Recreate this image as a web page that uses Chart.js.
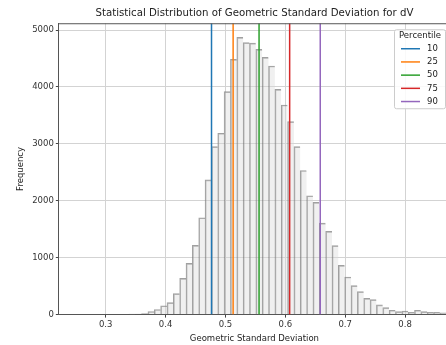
<!DOCTYPE html>
<html>
<head>
<meta charset="utf-8">
<title>GSD histogram</title>
<script src="https://cdn.jsdelivr.net/npm/chart.js@4.4.0/dist/chart.umd.min.js"></script>
<style>
  html, body { margin: 0; padding: 0; overflow: hidden; background: #fff; }
  #wrap { width: 452px; height: 345px; position: relative; }
</style>
</head>
<body>
<div id="wrap"><canvas id="chart"></canvas></div>
<script>
// histogram: bin centres and counts
var binCenters = [0.3440, 0.3546, 0.3652, 0.3758, 0.3864, 0.3970, 0.4076, 0.4182, 0.4288, 0.4394,
                  0.4500, 0.4606, 0.4712, 0.4818, 0.4924, 0.5030, 0.5136, 0.5242, 0.5348, 0.5454,
                  0.5560, 0.5666, 0.5772, 0.5878, 0.5984, 0.6090, 0.6196, 0.6302, 0.6408, 0.6514,
                  0.6620, 0.6726, 0.6832, 0.6938, 0.7044, 0.7150, 0.7256, 0.7362, 0.7468, 0.7574,
                  0.7680, 0.7786, 0.7892, 0.7998, 0.8104, 0.8210, 0.8316, 0.8422, 0.8528, 0.8634,
                  0.8740];
var counts = [4, 10, 20, 55, 90, 155, 210, 368, 637, 900,
              1216, 1702, 2368, 2953, 3187, 3918, 4485, 4871, 4778, 4770,
              4661, 4520, 4368, 3959, 3684, 3392, 2953, 2532, 2088, 1971,
              1608, 1462, 1211, 865, 661, 509, 404, 286, 263, 170,
              123, 76, 53, 64, 41, 76, 53, 41, 41, 29,
              25];

var percentileLabels = ['10', '25', '50', '75', '90'];
var percentileValues = [0.4767, 0.5128, 0.5561, 0.6072, 0.6583];
var percentileColors = ['#1f77b4', '#ff7f0e', '#2ca02c', '#d62728', '#9467bd'];

var xTicks = [0.3, 0.4, 0.5, 0.6, 0.7, 0.8];
var yTicks = [0, 1000, 2000, 3000, 4000, 5000];
var xMin = 0.2217, xMax = 0.875, yMax = 5120;

var FONT = "'DejaVu Sans', sans-serif";

var datasets = [{
    type: 'bar',
    label: 'counts',
    data: binCenters.map(function (x, i) { return {x: x, y: counts[i]}; }),
    backgroundColor: 'rgba(215,215,215,0.38)',
    borderColor: 'rgba(120,120,120,0.7)',
    borderWidth: {left: 1, top: 1, right: 0, bottom: 0},
    borderSkipped: false,
    barPercentage: 1,
    categoryPercentage: 1,
    order: 2
}];
percentileValues.forEach(function (v, i) {
    datasets.push({
        type: 'line',
        label: percentileLabels[i],
        data: [{x: v, y: 0}, {x: v, y: yMax}],
        borderColor: percentileColors[i],
        borderWidth: 1.5,
        pointRadius: 0,
        fill: false,
        order: 1
    });
});

// top spine + legend box in the upper right corner
var extras = {
    id: 'extras',
    afterDatasetsDraw: function (chart) {
        var a = chart.chartArea, ctx = chart.ctx;
        ctx.save();
        ctx.strokeStyle = '#555';
        ctx.lineWidth = 1;
        ctx.beginPath();
        ctx.moveTo(a.left, a.top + 0.5);
        ctx.lineTo(a.right, a.top + 0.5);
        ctx.stroke();
        ctx.restore();
    },
    afterDraw: function (chart) {
        var a = chart.chartArea, ctx = chart.ctx;
        var w = 51, h = 79;
        var bx = a.right - 5 - w, by = a.top + 6;
        ctx.save();
        ctx.fillStyle = 'rgba(255,255,255,0.85)';
        ctx.strokeStyle = '#cccccc';
        ctx.lineWidth = 1;
        ctx.beginPath();
        ctx.roundRect(bx + 0.5, by + 0.5, w, h, 2);
        ctx.fill();
        ctx.stroke();
        ctx.fillStyle = '#222';
        ctx.font = '8.5px ' + FONT;
        ctx.textBaseline = 'middle';
        ctx.textAlign = 'center';
        ctx.fillText('Percentile', bx + w / 2 + 0.5, by + 7);
        ctx.textAlign = 'left';
        percentileLabels.forEach(function (lab, i) {
            var y = by + 19.5 + i * 13.2;
            ctx.strokeStyle = percentileColors[i];
            ctx.lineWidth = 1.5;
            ctx.beginPath();
            ctx.moveTo(bx + 7, y);
            ctx.lineTo(bx + 26, y);
            ctx.stroke();
            ctx.fillStyle = '#222';
            ctx.fillText(lab, bx + 33, y);
        });
        ctx.restore();
    }
};

new Chart(document.getElementById('chart'), {
    data: {datasets: datasets},
    plugins: [extras],
    options: {
        responsive: true,
        maintainAspectRatio: false,
        animation: false,
        layout: {padding: {left: 12, right: 2, top: 0, bottom: 0}},
        plugins: {
            legend: {display: false},
            tooltip: {enabled: false},
            title: {
                display: true,
                text: 'Statistical Distribution of Geometric Standard Deviation for dV',
                fullSize: false,
                color: '#222',
                font: {family: FONT, size: 10.2, weight: 'normal'},
                padding: {top: 7, bottom: 4}
            }
        },
        scales: {
            x: {
                type: 'linear',
                min: xMin,
                max: xMax,
                offset: false,
                afterBuildTicks: function (s) { s.ticks = xTicks.map(function (v) { return {value: v}; }); },
                ticks: {
                    color: '#333',
                    font: {family: FONT, size: 8.5},
                    padding: 2,
                    maxRotation: 0,
                    callback: function (v) { return v.toFixed(1); }
                },
                grid: {color: '#d3d3d3', tickColor: '#444', tickLength: 3, offset: false},
                border: {color: '#555', width: 1},
                title: {
                    display: true,
                    text: 'Geometric Standard Deviation',
                    color: '#222',
                    font: {family: FONT, size: 8.5},
                    padding: {top: 2, bottom: 1}
                }
            },
            y: {
                min: 0,
                max: yMax,
                afterBuildTicks: function (s) { s.ticks = yTicks.map(function (v) { return {value: v}; }); },
                ticks: {
                    color: '#333',
                    font: {family: FONT, size: 8.5},
                    padding: 2,
                    callback: function (v) { return String(v); }
                },
                grid: {color: '#d3d3d3', tickColor: '#444', tickLength: 3},
                border: {color: '#555', width: 1},
                title: {
                    display: true,
                    text: 'Frequency',
                    color: '#222',
                    font: {family: FONT, size: 8.5},
                    padding: {top: 4, bottom: 4}
                }
            }
        }
    }
});
</script>
</body>
</html>
